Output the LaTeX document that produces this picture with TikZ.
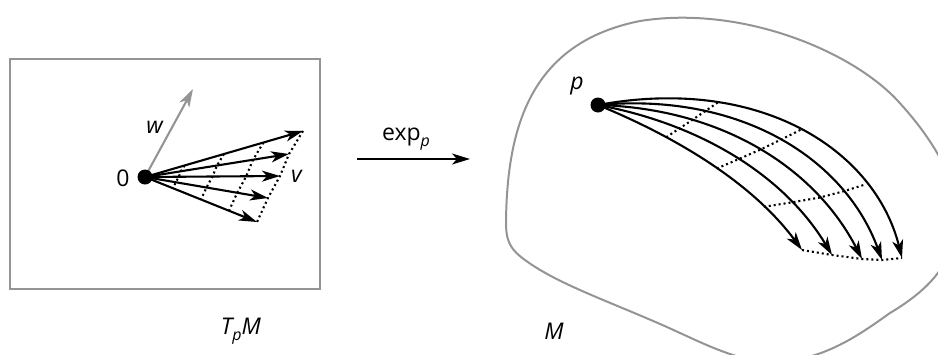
\documentclass[tikz,border=0pt]{standalone}
\usepackage{fontspec}
\setmainfont{Open Sans}
\usetikzlibrary{arrows.meta,calc}
\begin{document}
\begin{tikzpicture}[x=1pt,y=-1pt,
  frame/.style={draw=black!42,line width=2pt},
  vec/.style={line width=2.1pt,-{Stealth[length=18pt,width=11pt,inset=5pt]}},
  dotline/.style={line width=2.1pt,dash pattern=on 2pt off 3pt},
  dotnode/.style={circle,fill=black,inner sep=0pt,minimum size=15pt},
  lbl/.style={font=\fontsize{23}{26}\selectfont,inner sep=0pt}]
\useasboundingbox (0,0) rectangle (938,354);
% left tangent space
\draw[frame] (10,59) rectangle (320,289);
\coordinate (O) at (145,177);
\coordinate (w) at (193,89);
\coordinate (t1) at (303,131);
\coordinate (t2) at (289,154);
\coordinate (t3) at (280,176);
\coordinate (t4) at (268,198);
\coordinate (t5) at (257,222);
\draw[vec,black!42] (O) -- (w);
\foreach \i in {1,...,5} \draw[vec] (O) -- (t\i);
\foreach \s in {0.25,0.5,0.75,1}
  \draw[dotline] ($(O)!\s!(t1)$) -- ($(O)!\s!(t2)$) -- ($(O)!\s!(t3)$) -- ($(O)!\s!(t4)$) -- ($(O)!\s!(t5)$);
\node[dotnode] (Odot) at (O) {};
\node[lbl] (zero) at (123,178) {0};
\node[lbl] (wl) at (155,127) {\textit{w}};
\node[lbl] (vl) at (297,176) {\textit{v}};
\node[lbl] (TpM) at (241,331) {\textit{T\raisebox{-0.25em}{\fontsize{16}{17}\selectfont p}M}};
% middle arrow
\coordinate (a1) at (357,159);
\coordinate (a2) at (470,159);
\draw[vec] (a1) -- (a2);
\node[lbl] (expl) at (406,139) {exp\raisebox{-0.25em}{\fontsize{16}{17}\selectfont\textit{p}}};
% manifold
\begin{scope}
\clip (0,0) rectangle (938,354);
\draw[frame] (506,222) .. controls (507,120) and (535,42) .. (640,21)
  .. controls (740,5) and (850,50) .. (897,100)
  .. controls (925,130) and (962,180) .. (957,225)
  .. controls (952,270) and (920,295) .. (890,313)
  .. controls (855,338) and (820,362) .. (770,362)
  .. controls (740,362) and (700,342) .. (680,333)
  .. controls (620,305) and (560,286) .. (525,260)
  .. controls (508,248) and (506,238) .. (506,222);
\end{scope}
\coordinate (p) at (598,105);
% geodesics: bottom (0) to top (4)
\foreach \i/\tx/\ty in {0/802/250,1/832/255,2/862/259,3/882/260,4/902/258}{
  \pgfmathsetmacro{\ax}{688+72*\i/4}
  \pgfmathsetmacro{\ay}{142-67*\i/4}
  \pgfmathsetmacro{\bx}{757+118*\i/4}
  \pgfmathsetmacro{\by}{189-39*\i/4}
  \draw[vec] (p) .. controls (\ax,\ay) and (\bx,\by) .. (\tx,\ty);
  \path (p) .. controls (\ax,\ay) and (\bx,\by) .. (\tx,\ty)
    coordinate[pos=0.27] (g\i a) coordinate[pos=0.5] (g\i b) coordinate[pos=0.75] (g\i c) coordinate[pos=1] (g\i d);
}
\foreach \k in {a,b,c,d}
  \draw[dotline] (g0\k) -- (g1\k) -- (g2\k) -- (g3\k) -- (g4\k);
\node[dotnode] (pdot) at (p) {};
\node[lbl] (pl) at (577,86) {\textit{p}};
\node[lbl] (Ml) at (554,331) {\textit{M}};
\end{tikzpicture}
\end{document}
